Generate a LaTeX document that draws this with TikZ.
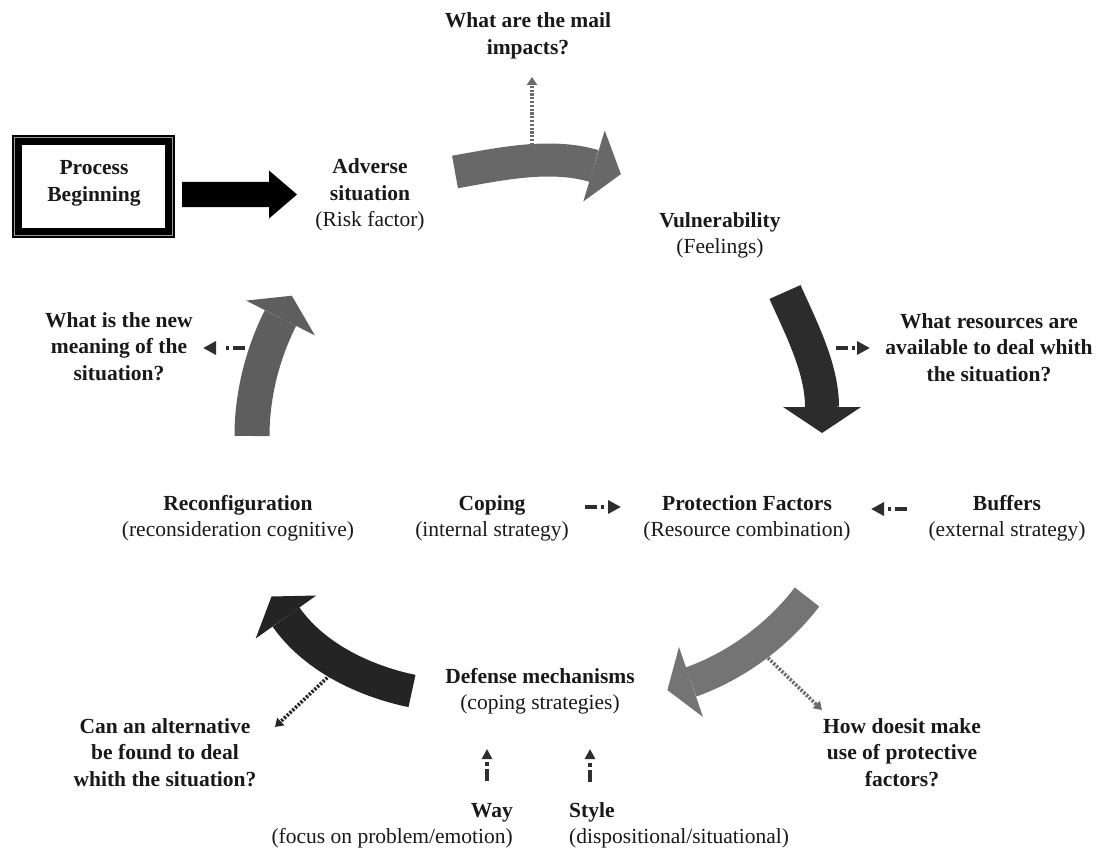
\documentclass[tikz,border=0pt]{standalone}
\usepackage{fontspec}
\setmainfont{Liberation Serif}
\usetikzlibrary{arrows.meta}
\newcommand{\lblfont}{\fontsize{21.5}{26.5}\selectfont}
\newcommand{\ctab}[1]{\begin{tabular}[t]{@{}c@{}}#1\end{tabular}}
\newcommand{\rtab}[1]{\begin{tabular}[t]{@{}r@{}}#1\end{tabular}}
\newcommand{\ltab}[1]{\begin{tabular}[t]{@{}l@{}}#1\end{tabular}}
\definecolor{gA}{HTML}{686868}
\definecolor{dB}{HTML}{2C2C2C}
\definecolor{gC}{HTML}{747474}
\definecolor{dD}{HTML}{242424}
\definecolor{gE}{HTML}{5E5E5E}
\begin{document}
\begin{tikzpicture}[x=1pt,y=-1pt,
  lbl/.style={inner sep=0pt,font=\lblfont,text=black!90},
  band/.style={line cap=butt},
  dashdot/.style={line width=4.5pt,dash pattern=on 12pt off 4pt on 3pt off 40pt,
     -{Triangle[length=13pt,width=13pt]},color=black!82},
  vdashdot/.style={line width=4pt,dash pattern=on 12pt off 3pt on 4pt off 40pt,
     -{Triangle[length=10pt,width=10pt]},color=black!82},
  dotarrow/.style={line width=3.6pt,dash pattern=on 2.2pt off 1.6pt,
     -{Triangle[length=8pt,width=10pt]}},
]
\useasboundingbox (0,0) rectangle (1098,848);

% ---------- Process Beginning box ----------
\node (pb) [draw=black,line width=10pt,minimum width=153pt,minimum height=93pt,inner sep=0pt] at (93.5,186.5) {};
\draw[white,line width=0.7pt,opacity=0.6] (14.5,137.5) rectangle (172.5,235.5);
\node (pbt) [lbl,anchor=base] at (94,175) {\ctab{\textbf{Process}\\\textbf{Beginning}}};

% ---------- black straight arrow ----------
\coordinate (ba) at (182,194.5);
\fill[black] (ba) ++(0,-12.5) -- (269,182) -- (269,170.5) -- (297,194.5) -- (269,218.5) -- (269,207) -- (182,207) -- cycle;

% ---------- labels ----------
\node (adv) [lbl,anchor=base] at (370,174) {\ctab{\textbf{Adverse}\\\textbf{situation}\\(Risk factor)}};
\node (mail) [lbl,anchor=base] at (528,28) {\ctab{\textbf{What are the mail}\\\textbf{impacts?}}};
\node (vul) [lbl,anchor=base] at (720,227) {\ctab{\textbf{Vulnerability}\\(Feelings)}};
\node (res) [lbl,anchor=base] at (989,328) {\ctab{\textbf{What resources are}\\\textbf{available to deal whith}\\\textbf{the situation?}}};
\node (newm) [lbl,anchor=base] at (119,327) {\ctab{\textbf{What is the new}\\\textbf{meaning of the}\\\textbf{situation?}}};
\node (rec) [lbl,anchor=base] at (238,510) {\ctab{\textbf{Reconfiguration}\\(reconsideration cognitive)}};
\node (cop) [lbl,anchor=base] at (492,510) {\ctab{\textbf{Coping}\\(internal strategy)}};
\node (pro) [lbl,anchor=base] at (747,510) {\ctab{\textbf{Protection Factors}\\(Resource combination)}};
\node (buf) [lbl,anchor=base] at (1007,510) {\ctab{\textbf{Buffers}\\(external strategy)}};
\node (def) [lbl,anchor=base] at (540,683) {\ctab{\textbf{Defense mechanisms}\\(coping strategies)}};
\node (alt) [lbl,anchor=base] at (165,733) {\ctab{\textbf{Can an alternative}\\\textbf{be found to deal}\\\textbf{whith the situation?}}};
\node (how) [lbl,anchor=base] at (902,733) {\ctab{\textbf{How doesit make}\\\textbf{use of protective}\\\textbf{factors?}}};
\node (way) [lbl,anchor=base east] at (513,817) {\rtab{\textbf{Way}\\(focus on problem/emotion)}};
\node (sty) [lbl,anchor=base west] at (569,817) {\ltab{\textbf{Style}\\(dispositional/situational)}};

% ---------- curved arrow 1: top (grey) ----------
\draw[band,gA,line width=33pt] (455,172) .. controls (500,164) and (550,153) .. (594,166);
\fill[gA] (583.3,201.5) -- (620.9,174.1) -- (604.7,130.5) -- cycle;
\coordinate (m0) at (532,145);
\coordinate (m1) at (532,77);
\draw[dotarrow,black!58] (m0) -- (m1);

% ---------- curved arrow 2: right, down (dark) ----------
\draw[band,dB,line width=34pt] (785,292) .. controls (801,328) and (822,368) .. (822,407);
\fill[dB] (783,407) -- (822,433) -- (861,407) -- cycle;
\coordinate (r0) at (836,348);
\coordinate (r1) at (870,348);
\draw[dashdot] (r0) -- (r1);

% ---------- middle row arrows ----------
\coordinate (c0) at (585,507);
\coordinate (c1) at (621,507);
\draw[dashdot] (c0) -- (c1);
\coordinate (b0) at (907,509);
\coordinate (b1) at (871,509);
\draw[dashdot] (b0) -- (b1);

% ---------- curved arrow 3: bottom right (grey) ----------
\draw[band,gC,line width=31pt] (807,597) .. controls (778,635) and (736,666) .. (691,682);
\fill[gC] (703,717) -- (667.4,690.1) -- (679,647) -- cycle;
\coordinate (h0) at (768,658);
\coordinate (h1) at (822,710);
\draw[dotarrow,black!58] (h0) -- (h1);

% ---------- curved arrow 4: bottom left (dark) ----------
\draw[band,dD,line width=33pt] (412,691) .. controls (364,681) and (314,657) .. (286,617);
\fill[dD] (316.3,595.5) -- (271.5,596.5) -- (255.7,638.5) -- cycle;
\coordinate (a0) at (330,675);
\coordinate (a1) at (275,727);
\draw[dotarrow,black!85] (a0) -- (a1);

% ---------- Way / Style arrows ----------
\coordinate (w0) at (487,781);
\coordinate (w1) at (487,749);
\draw[vdashdot] (w0) -- (w1);
\coordinate (s0) at (590,782);
\coordinate (s1) at (590,749);
\draw[vdashdot] (s0) -- (s1);

% ---------- curved arrow 5: left, up (grey) ----------
\draw[band,gE,line width=35pt] (252,436) .. controls (252,395) and (262.5,353.7) .. (280.5,318);
\fill[gE] (314.9,335.4) -- (291.8,295.7) -- (246.1,300.6) -- cycle;
\coordinate (n0) at (245,348);
\coordinate (n1) at (203,348);
\draw[dashdot] (n0) -- (n1);
\end{tikzpicture}
\end{document}
